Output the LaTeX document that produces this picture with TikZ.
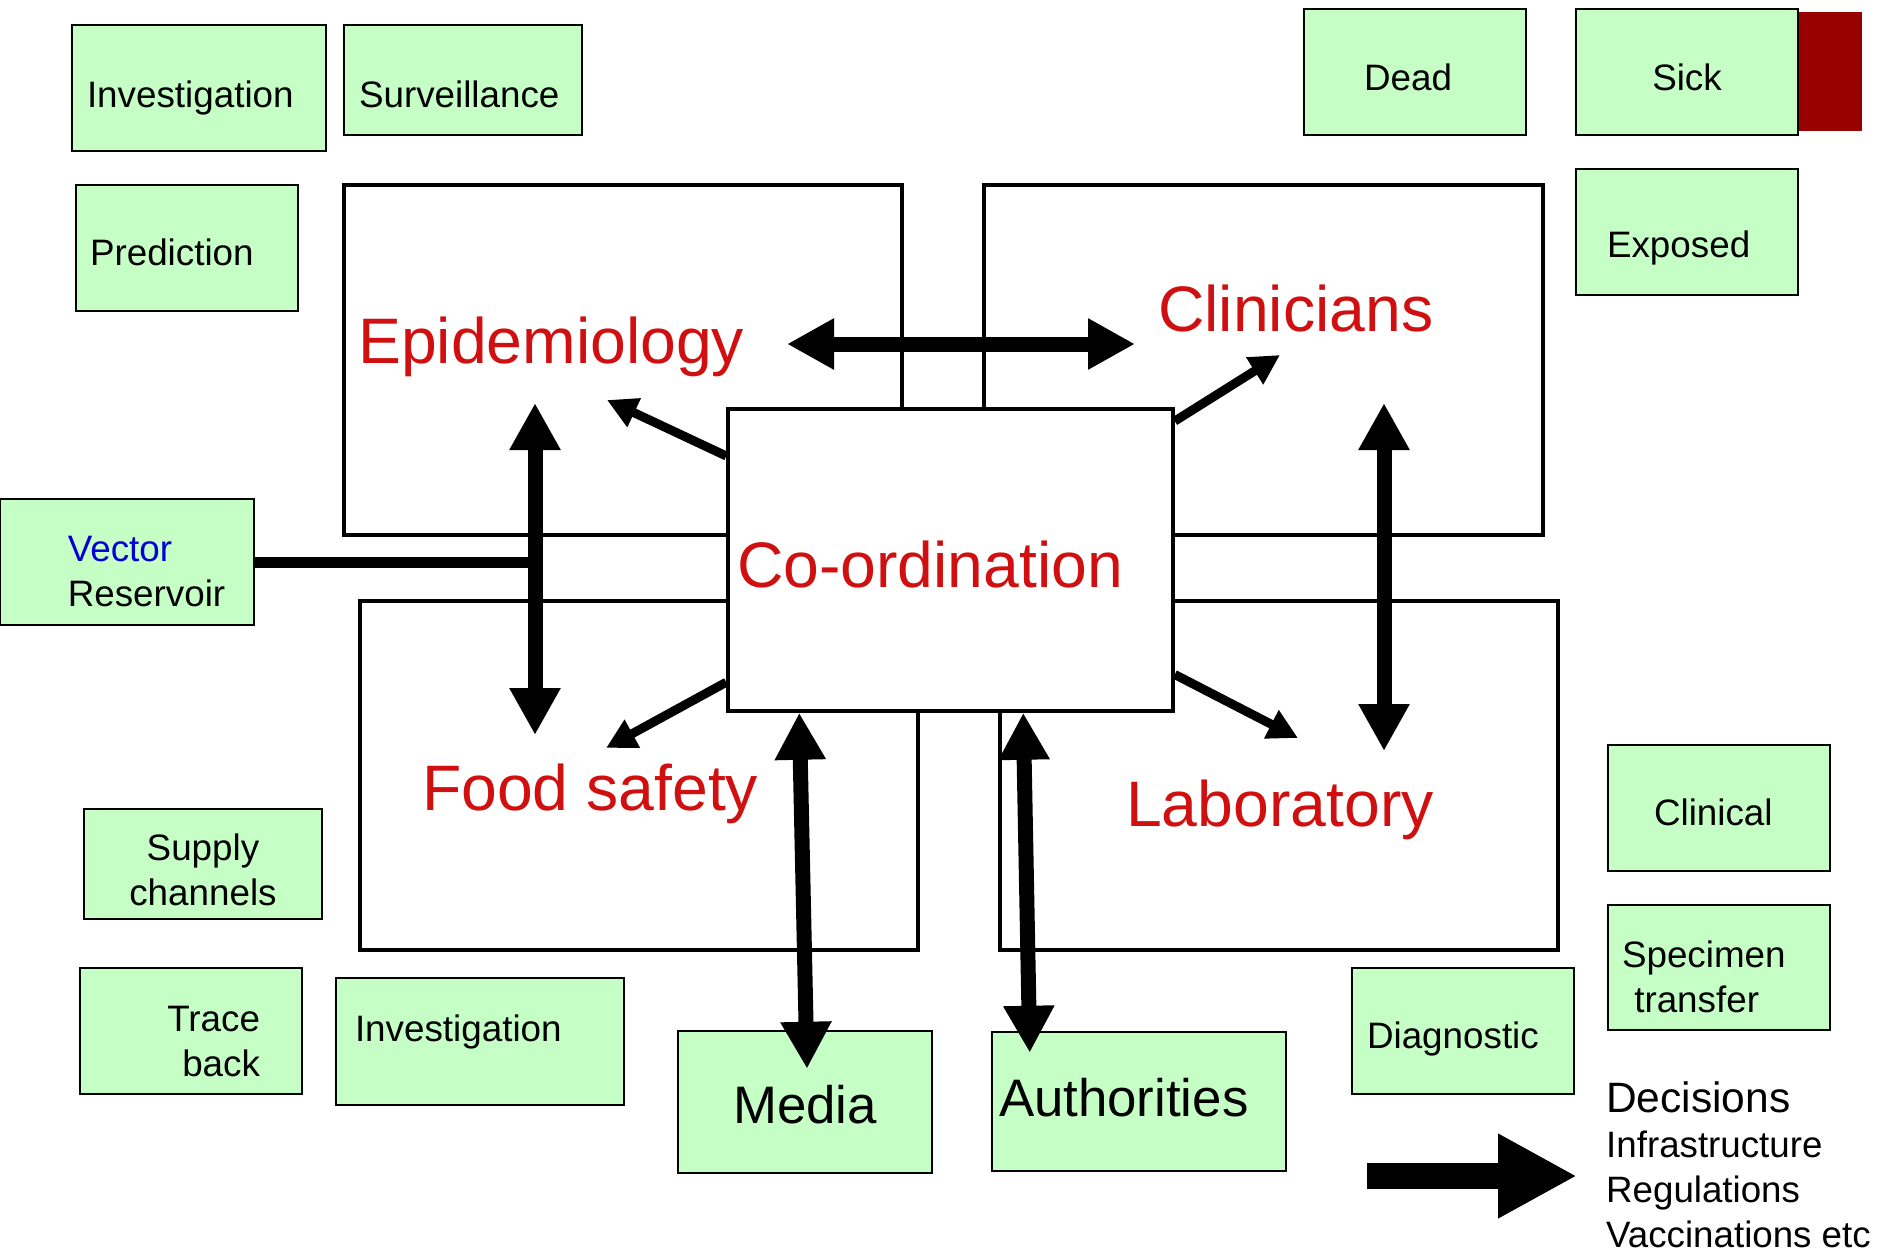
\documentclass[tikz,border=0pt]{standalone}
\usepackage{fontspec}
\setmainfont{Liberation Sans}
\usetikzlibrary{arrows.meta,calc}

\definecolor{boxgreen}{RGB}{198,255,198}
\definecolor{labred}{RGB}{208,16,16}
\definecolor{barred}{RGB}{153,0,0}
\definecolor{vecblue}{RGB}{0,0,214}

\tikzset{
  gbox/.style={draw, line width=2.5pt, fill=boxgreen, inner sep=0pt, align=left,
    font=\fontsize{36.8}{45}\selectfont},
  bigbox/.style={draw, line width=4pt, inner sep=0pt},
  redlab/.style={text=labred, inner sep=0pt, anchor=base west, font=\fontsize{64.3}{70}\selectfont},
  dblarrow/.style={line width=15pt, {Triangle[length=47pt,width=48pt]}-{Triangle[length=47pt,width=48pt]}},
  onearrow/.style={line width=9pt, -{Triangle[length=30pt,width=30pt]}}
}

\begin{document}
\begin{tikzpicture}[x=1pt, y=-1pt]
    \useasboundingbox (0,0) rectangle (1886,1253);
    % the four areas and the centre
    \node[bigbox, minimum width=558pt, minimum height=350pt] (epibox) at (623,360) {};
    \node[bigbox, minimum width=559pt, minimum height=350pt] (clinbox) at (1263.5,360) {};
    \node[bigbox, minimum width=558pt, minimum height=349pt] (foodbox) at (639,775.5) {};
    \node[bigbox, minimum width=558pt, minimum height=349pt] (labbox) at (1279,775.5) {};
    \node[bigbox, line width=3.5pt, fill=white, minimum width=445pt, minimum height=302pt,
      text width=427pt, text height=54pt, text depth=0pt, align=left, text=labred,
      font=\fontsize{64.3}{70}\selectfont] (coord) at (950.5,560) {Co-ordination};
    \node[redlab] (epi) at (358,363) {Epidemiology};
    \node[redlab] (clin) at (1158,331) {Clinicians};
    \node[redlab] (food) at (422,810) {Food safety};
    \node[redlab] (lab) at (1126,826) {Laboratory};

    % green boxes
    \node[gbox, minimum width=254pt, minimum height=126pt, text width=224pt, text height=38pt, text depth=0pt] (inv1) at (199,88) {Investigation};
    \node[gbox, minimum width=238pt, minimum height=110pt, text width=208pt, text height=54pt, text depth=0pt] (surv) at (463,80) {Surveillance};
    \node[gbox, minimum width=222pt, minimum height=126pt, text width=194pt, text height=34pt, text depth=0pt] (pred) at (187,248) {Prediction};
    \node[gbox, minimum width=222pt, minimum height=126pt, text width=102pt, text height=36pt, text depth=0pt] (dead) at (1415,72) {Dead};
    \node[fill=barred, inner sep=0pt, minimum width=64pt, minimum height=119pt] (sickbar) at (1830,71.5) {};
    \node[gbox, minimum width=222pt, minimum height=126pt, text height=36pt, text depth=0pt] (sick) at (1687,72) {Sick};
    \node[gbox, minimum width=222pt, minimum height=126pt, text width=160pt, text height=50pt, text depth=0pt] (exposed) at (1687,232) {Exposed};
    \node[gbox, minimum width=254pt, minimum height=126pt] (vector) at (127,562)
      {\rule{0pt}{44pt}\hspace*{39pt}\textcolor{vecblue}{Vector}\\\hspace*{39pt}Reservoir};
    \node[gbox, align=center, minimum width=238pt, minimum height=110pt] (supply) at (203,864) {\rule{0pt}{38pt}Supply\\channels};
    \node[gbox, align=right, minimum width=222pt, minimum height=126pt, text width=138pt] (trace) at (191,1031) {\rule{0pt}{47pt}Trace\\back};
    \node[gbox, minimum width=288pt, minimum height=127pt, text width=250pt, text height=26pt, text depth=27pt] (inv2) at (480,1041.5) {Investigation};
    \node[gbox, minimum width=254pt, minimum height=142pt, text height=42pt, text depth=0pt, font=\fontsize{52.8}{60}\selectfont] (media) at (805,1102) {Media};
    \node[gbox, minimum width=294pt, minimum height=139pt, text width=280pt, text height=29pt, text depth=0pt, font=\fontsize{52.8}{60}\selectfont] (auth) at (1139,1101.5) {Authorities};
    \node[gbox, minimum width=222pt, minimum height=126pt, text width=192pt, text height=34pt, text depth=0pt] (diag) at (1463,1031) {Diagnostic};
    \node[gbox, minimum width=222pt, minimum height=126pt, text width=130pt, text height=34pt, text depth=0pt] (clinical) at (1719,808) {Clinical};
    \node[gbox, minimum width=222pt, minimum height=125pt, text width=194pt] (specimen) at (1719,967.5) {\rule{0pt}{46pt}Specimen\\~transfer};
    \node[anchor=north west, inner sep=0pt, align=left, font=\fontsize{36.7}{45}\selectfont] (decisions) at (1606,1081)
      {{\fontsize{42.5}{46}\selectfont Decisions}\\Infrastructure\\Regulations\\Vaccinations etc};

    % arrow ends
    \coordinate (epiR) at (787,344);
    \coordinate (clinL) at (1135,344);
    \coordinate (epiD) at (535,403);
    \coordinate (foodU) at (535,735);
    \coordinate (clinD) at (1384,403);
    \coordinate (labU) at (1384,751);
    \coordinate (toEpi) at (607,400);
    \coordinate (toClin) at (1280,355);
    \coordinate (toFood) at (606,748);
    \coordinate (toLab) at (1298,738);
    \coordinate (decA) at (1367,1176);
    \coordinate (decB) at (1577,1176);

    \draw[dblarrow] (epiR) -- (clinL);
    \draw[dblarrow] (epiD) -- (foodU);
    \draw[dblarrow] (clinD) -- (labU);
    \draw[line width=11pt] (vector.east) -- (vector.east -| epiD);
    \draw[onearrow] (coord) -- (toEpi);
    \draw[onearrow] (coord) -- (toClin);
    \draw[onearrow] (coord) -- (toFood);
    \draw[onearrow] (coord) -- (toLab);
    \draw[dblarrow] ($(coord.south west)+(73,0)$) -- ($(media.north)+(2,39)$);
    \draw[dblarrow] ($(coord.south west)+(297,0)$) -- ($(auth.north west)+(39,22)$);
    \draw[line width=26pt, -{Triangle[length=79pt,width=79pt]}] (decA) -- (decB);
\end{tikzpicture}
\end{document}
